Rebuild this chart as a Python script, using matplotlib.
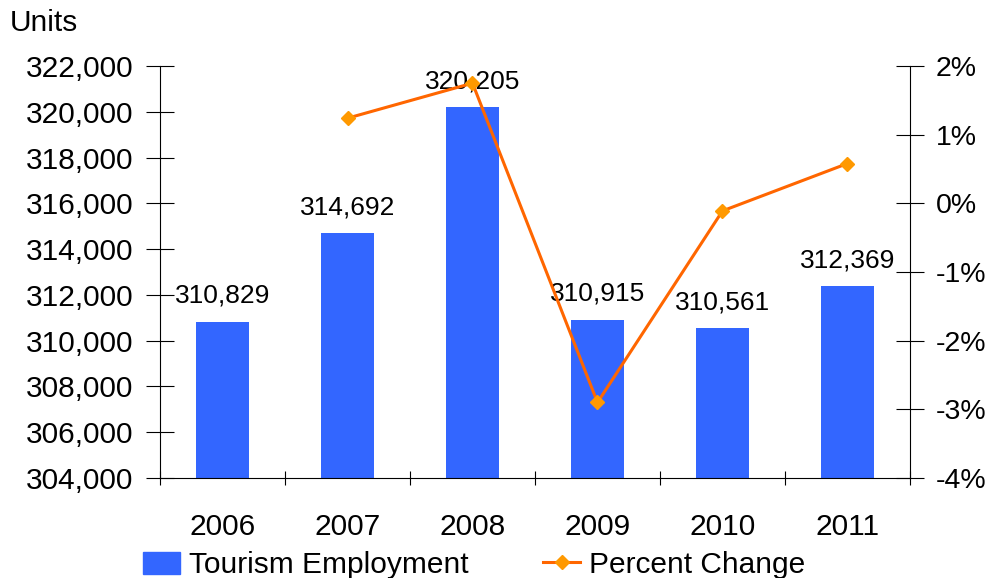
import matplotlib
matplotlib.use("Agg")
import matplotlib.pyplot as plt
from matplotlib.ticker import FuncFormatter, FixedLocator
from matplotlib.lines import Line2D
from matplotlib.patches import Patch

plt.rcParams['font.family'] = ['Liberation Sans', 'DejaVu Sans']

years = ["2006", "2007", "2008", "2009", "2010", "2011"]
employment = [310829, 314692, 320205, 310915, 310561, 312369]
pct_years = ["2007", "2008", "2009", "2010", "2011"]
pct_change = [1.24, 1.75, -2.90, -0.11, 0.58]

fig = plt.figure(figsize=(9.9, 5.78), dpi=100)
ax = fig.add_axes([160/990, 1-478/578, 750/990, 412/578])
ax2 = ax.twinx()

x = list(range(len(years)))
ax.bar(x, employment, width=0.42, color='#3366FF', zorder=2)
for xi, v in zip(x, employment):
    ax.text(xi, v + 600, f"{v:,}", ha='center', va='bottom', fontsize=19, zorder=3)

ax.set_xlim(-0.5, len(years) - 0.5)
ax.set_ylim(304000, 322000)
ax.set_yticks(range(304000, 322001, 2000))
ax.yaxis.set_major_formatter(FuncFormatter(lambda v, p: f"{int(v):,}"))
ax.set_xticks(x)
ax.set_xticklabels(years)
ax.xaxis.set_minor_locator(FixedLocator([i - 0.5 for i in range(len(years) + 1)]))
ax.tick_params(axis='x', which='major', length=0, labelsize=21.5, pad=25)
ax.tick_params(axis='x', which='minor', length=10, direction='inout', width=0.8)
ax.tick_params(axis='y', labelsize=21.5, length=20, direction='inout', width=0.8, pad=9)

for s in ['top', 'right']:
    ax.spines[s].set_visible(False)
for s in ['top', 'left', 'bottom']:
    ax2.spines[s].set_visible(False)
ax.spines['left'].set_linewidth(0.8)
ax.spines['bottom'].set_linewidth(0.8)
ax2.spines['right'].set_linewidth(0.8)

px = [years.index(y) for y in pct_years]
ax2.plot(px, pct_change, color='#FF6600', lw=2.2, marker='D', markersize=7,
         markerfacecolor='#FF9900', markeredgecolor='#FF9900', zorder=5)
ax2.set_ylim(-4, 2)
ax2.set_yticks(range(-4, 3))
ax2.yaxis.set_major_formatter(FuncFormatter(lambda v, p: f"{int(v)}%"))
ax2.tick_params(axis='y', labelsize=20.5, length=20, direction='inout', width=0.8, pad=8.5)
ax.set_zorder(1)
ax2.set_zorder(2)
ax2.patch.set_visible(False)

fig.text(10/990, 1-23/578, "Units", fontsize=21.5, va='center', ha='left')

handles = [Patch(color='#3366FF', label='Tourism Employment'),
           Line2D([0], [0], color='#FF6600', lw=2.2, marker='D', markersize=7,
                  markerfacecolor='#FF9900', markeredgecolor='#FF9900', label='Percent Change')]
fig.legend(handles=handles, loc='center', bbox_to_anchor=(474/990, 1-565/578), ncol=2,
           frameon=False, fontsize=21.5, handlelength=1.25, handleheight=0.75,
           columnspacing=2.5, handletextpad=0.28, borderpad=0)

fig.savefig("out.png", dpi=100)
